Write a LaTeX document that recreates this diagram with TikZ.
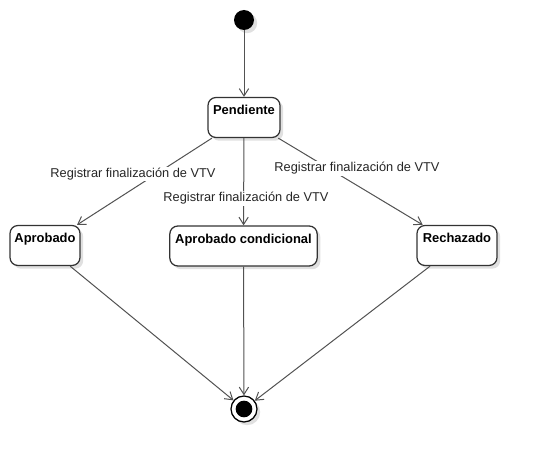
\documentclass[tikz,border=0pt]{standalone}
\usepackage{fontspec}
\setmainfont{Liberation Sans}
\usetikzlibrary{arrows.meta,shadows}
\begin{document}
\begin{tikzpicture}[x=0.75pt,y=-0.75pt,
  shad/.style={drop shadow={shadow xshift=2.4pt,shadow yshift=-2.4pt,fill=black,opacity=0.12}},
  statebox/.style={draw=black!80,line width=0.95pt,rounded corners=6pt,fill=white,shad,
    inner xsep=0pt,inner ysep=0pt,minimum height=30pt,text height=13pt,text depth=17pt,
    font=\fontsize{9.7pt}{11.5pt}\selectfont\bfseries,align=center},
  flow/.style={draw=black!68,line width=0.75pt,-{Straight Barb[length=5.5pt,width=7pt,line width=0.75pt]}},
  tlabel/.style={fill=white,inner sep=0.8pt,font=\fontsize{9.6pt}{11.5pt}\selectfont,text=black!85}]
\useasboundingbox (0,0) rectangle (537,460);
% states
\node[circle,fill=black,minimum size=15pt,inner sep=0pt,shad] (init) at (244,20) {};
\node[statebox,minimum width=54pt] (pend) at (244,117.5) {Pendiente};
\node[statebox,minimum width=52.5pt] (apr) at (45,245.5) {Aprobado};
\node[statebox,minimum width=110.5pt] (aprc) at (243.5,246) {Aprobado condicional};
\node[statebox,minimum width=60pt] (rech) at (457,245.5) {Rechazado};
\node[circle,draw=black,line width=0.95pt,fill=white,minimum size=19.5pt,inner sep=0pt,shad] (final) at (244,409) {};
\node[circle,fill=black,minimum size=12.5pt,inner sep=0pt] (finalin) at (final.center) {};
% transitions
\draw[flow] (init) -- (pend);
\draw[flow] (pend) -- (apr);
\draw[flow] (pend) -- (aprc);
\draw[flow] (pend) -- (rech);
\draw[flow] (apr) -- (final);
\draw[flow] (aprc) -- (final);
\draw[flow] (rech) -- (final);
% labels
\node[tlabel] (l1) at (133,174) {Registrar finalización de VTV};
\node[tlabel] (l2) at (246,198.5) {Registrar finalización de VTV};
\node[tlabel] (l3) at (357,168.5) {Registrar finalización de VTV};
\end{tikzpicture}
\end{document}
